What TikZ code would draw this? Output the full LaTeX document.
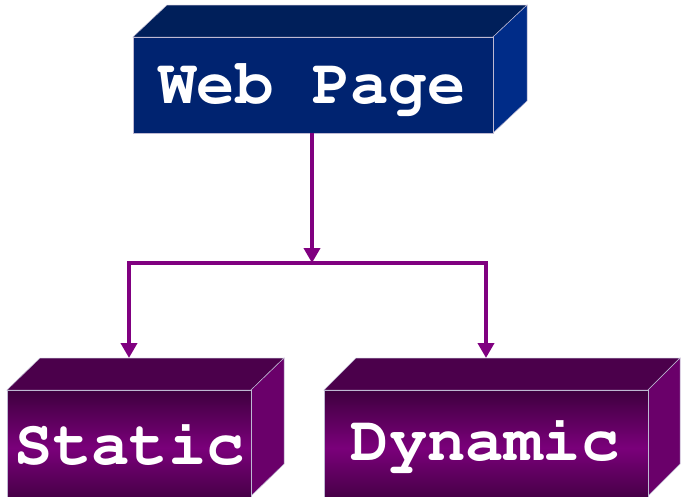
\documentclass[tikz,border=0pt]{standalone}
\usepackage[T1]{fontenc}
\usetikzlibrary{arrows.meta,shadings}
\definecolor{bluefront}{RGB}{0,35,112}
\definecolor{bluetop}{RGB}{0,31,90}
\definecolor{blueside}{RGB}{0,44,136}
\definecolor{purpdark}{RGB}{62,0,62}
\definecolor{purpmid}{RGB}{122,0,122}
\definecolor{purptop}{RGB}{75,0,75}
\definecolor{purpside}{RGB}{106,0,106}
\definecolor{conn}{RGB}{128,0,128}
\definecolor{edgecol}{RGB}{190,185,210}
\tikzset{
  boxtext/.style={text=white,font=\fontfamily{pcr}\fontseries{b}\fontsize{64}{70}\selectfont,inner sep=0pt},
  face/.style={draw=edgecol,line width=0.5pt},
  connector/.style={draw=conn,line width=4pt},
  arr/.style={-{Triangle[width=16pt,length=15pt]}}
}
\begin{document}
\begin{tikzpicture}[x=1pt,y=-1pt]
\useasboundingbox (0,0) rectangle (683,496);
% Web Page box
\fill[bluetop,face] (133,37) -- (167,5) -- (527,5) -- (493,37) -- cycle;
\fill[blueside,face] (493,37) -- (527,5) -- (527,101) -- (493,133) -- cycle;
\node[face,fill=bluefront,minimum width=360pt,minimum height=96pt,inner sep=0pt] (web) at (313,85) {};
\node[boxtext] (webt) at (312,88) {Web Page};
% Static box
\fill[purptop,face] (7,390) -- (40,358) -- (284,358) -- (251,390) -- cycle;
\fill[purpside,face] (251,390) -- (284,358) -- (284,464) -- (251,496) -- cycle;
\node[face,top color=purpdark,bottom color=purpdark,middle color=purpmid,minimum width=244pt,minimum height=116pt,inner sep=0pt] (static) at (129,448) {};
\node[boxtext] (statict) at (130,444) {Static};
% Dynamic box
\fill[purptop,face] (324,390) -- (356,358) -- (680,358) -- (648,390) -- cycle;
\fill[purpside,face] (648,390) -- (680,358) -- (680,464) -- (648,496) -- cycle;
\node[face,top color=purpdark,bottom color=purpdark,middle color=purpmid,minimum width=324pt,minimum height=116pt,inner sep=0pt] (dynamic) at (486,448) {};
\node[boxtext] (dynamict) at (485,444) {Dynamic};
% connectors
\coordinate (split) at (312,263);
\coordinate (jl) at (129,263);
\coordinate (jr) at (486,263);
\coordinate (sin) at (129,358);
\coordinate (din) at (486,358);
\draw[connector,arr] (web.south -| split) -- (split);
\draw[connector] ([xshift=-2pt]jl) -- ([xshift=2pt]jr);
\draw[connector,arr] ([yshift=-2pt]jl) -- (sin);
\draw[connector,arr] ([yshift=-2pt]jr) -- (din);
\end{tikzpicture}
\end{document}
